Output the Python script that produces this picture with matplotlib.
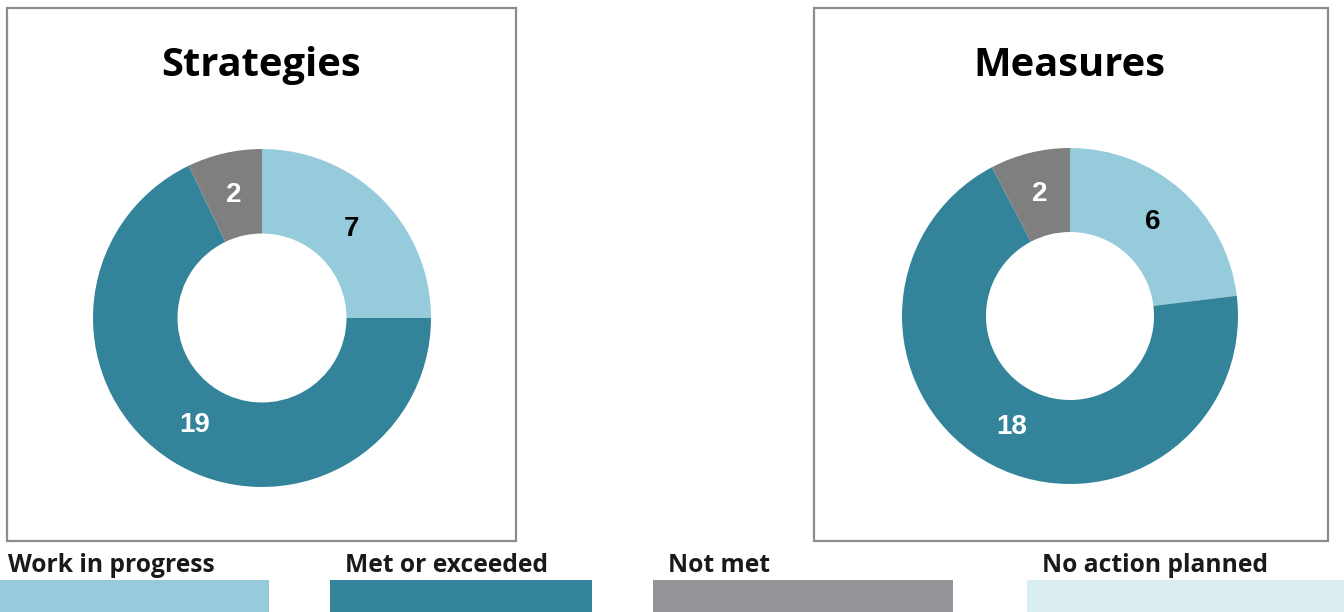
import matplotlib
matplotlib.use("Agg")
import numpy as np
import matplotlib.pyplot as plt
from matplotlib.patches import Rectangle
from matplotlib import font_manager

categories = ["Work in progress", "Met or exceeded", "Not met", "No action planned"]
strategies = [7, 19, 2, 0]
measures = [6, 18, 2, 0]
panel_titles = ["Strategies", "Measures"]

wedge_colors = ["#96CBDB", "#33849B", "#7F7F7F", "#DAEDF1"]
legend_colors = ["#96CBDB", "#33849B", "#959599", "#DAEDF1"]
label_colors = ["black", "white", "white", "black"]

W, H = 1344, 612
fig = plt.figure(figsize=(W / 100, H / 100), dpi=100)
fig.patch.set_facecolor("white")

available = {f.name for f in font_manager.fontManager.ttflist}
text_font = "Open Sans" if "Open Sans" in available else "DejaVu Sans"
num_font = "Liberation Sans" if "Liberation Sans" in available else "DejaVu Sans"


def fx(x):
    return x / W


def fy(y):
    return 1 - y / H


def box(x0, y0, x1, y1):
    fig.patches.append(Rectangle((fx(x0), fy(y1)), fx(x1) - fx(x0), fy(y0) - fy(y1),
                                 transform=fig.transFigure, fill=False,
                                 edgecolor="#8C8C8C", linewidth=1.6))


def donut(values, cx, cy, r):
    ax = fig.add_axes([fx(cx - r), fy(cy + r), 2 * r / W, 2 * r / H])
    ax.pie(values, colors=wedge_colors, startangle=90, counterclock=False,
           radius=1.0, wedgeprops=dict(width=0.5, linewidth=0))
    total = sum(values)
    start = 90.0
    for v, c in zip(values, label_colors):
        if v == 0:
            continue
        span = 360.0 * v / total
        mid = np.deg2rad(start - span / 2)
        ax.text(0.745 * np.cos(mid), 0.745 * np.sin(mid), str(v), ha="center", va="center",
                fontsize=20, fontweight="bold", color=c, family=num_font)
        start -= span
    ax.set_xlim(-1, 1)
    ax.set_ylim(-1, 1)
    ax.set_aspect("equal")
    ax.axis("off")


# panel frames
box(7, 8, 516, 541)
box(814, 8, 1328, 541)

# titles
fig.text(fx(261), fy(76), panel_titles[0], ha="center", va="baseline",
         fontsize=28.7, fontweight="bold", family=text_font)
fig.text(fx(1069), fy(76), panel_titles[1], ha="center", va="baseline",
         fontsize=28.7, fontweight="bold", family=text_font)

donut(strategies, 262, 318, 169)
donut(measures, 1070, 316, 168)

# legend strip
patch_x = [(0, 269), (330, 592), (653, 953), (1027, 1344)]
text_x = [8, 345, 668, 1042]
for name, col, (x0, x1), tx in zip(categories, legend_colors, patch_x, text_x):
    fig.patches.append(Rectangle((fx(x0), 0), fx(x1) - fx(x0), fy(580),
                                 transform=fig.transFigure, facecolor=col, edgecolor="none"))
    fig.text(fx(tx), fy(572), name, ha="left", va="baseline", fontsize=17.7,
             fontweight="bold", family=text_font, color="#1A1A1A")

fig.savefig("out.png", dpi=100, facecolor="white")
